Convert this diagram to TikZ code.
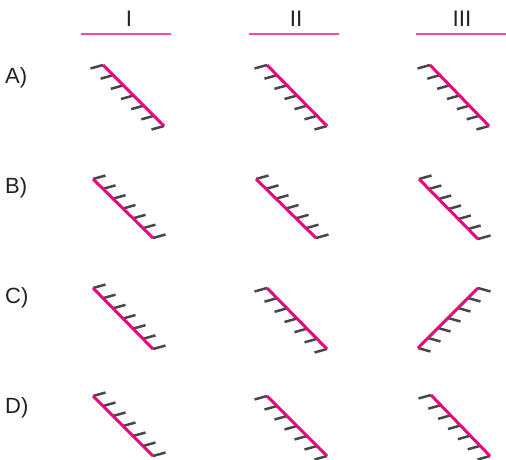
\documentclass[tikz,border=0pt]{standalone}
\usepackage{fontspec}
\setmainfont{Liberation Sans}
\usetikzlibrary{calc}
\definecolor{mag}{HTML}{E5097F}
\definecolor{maglight}{HTML}{EC4FA5}
\definecolor{hatchgray}{HTML}{474747}
\definecolor{txt}{HTML}{222222}
\tikzset{
  mirrorline/.style={draw=mag,line width=3pt},
  hatchline/.style={draw=hatchgray,line width=2.5pt},
  headline/.style={draw=maglight,line width=2pt},
  rowlabel/.style={anchor=west,text=txt,font=\fontsize{22}{26}\selectfont,inner sep=0pt},
  collabel/.style={text=txt,font=\fontsize{22.5}{27}\selectfont,inner sep=0pt}
}
% #1,#2 start; #3,#4 end; #5,#6 hatch vector
\newcommand\drawmirror[6]{%
  \foreach \k in {0,...,6}{%
    \draw[hatchline] ($(#1,#2)!\k/6!(#3,#4)$) -- ++(#5,#6);
  }
  \draw[mirrorline] (#1,#2) -- (#3,#4);
}
\begin{document}
\begin{tikzpicture}[x=1pt,y=-1pt]
\useasboundingbox (0,0) rectangle (506,459);
% column headers
\node[collabel] (hI) at (129,19) {I};
\node[collabel] (hII) at (296,19) {II};
\node[collabel] (hIII) at (462,19) {III};
\draw[headline] (81,34) -- (171,34);
\draw[headline] (249,34) -- (339,34);
\draw[headline] (416,34) -- (506,34);
% row labels
\node[rowlabel] (lA) at (5,78) {A)};
\node[rowlabel] (lB) at (5,188) {B)};
\node[rowlabel] (lC) at (5,298) {C)};
\node[rowlabel] (lD) at (5,408) {D)};
% row A
\drawmirror{103}{65}{164}{126}{-12.5}{3.5}
\drawmirror{267}{65}{327}{126}{-12.5}{3.5}
\drawmirror{430}{65}{489}{126}{-12.5}{3.5}
% row B
\drawmirror{93}{179}{153}{238}{12.5}{-3.5}
\drawmirror{256}{179}{316}{238}{12.5}{-3.5}
\drawmirror{419}{179}{478}{239}{12.5}{-3.5}
% row C
\drawmirror{93}{288}{153}{349}{12.5}{-3.5}
\drawmirror{267}{288}{327}{349}{-12.5}{3.5}
\drawmirror{478}{288}{418}{348}{12.5}{3.5}
% row D
\drawmirror{93}{396}{153}{456}{12.5}{-3.5}
\drawmirror{267}{396}{327}{456}{-12.5}{3.5}
\drawmirror{431}{395}{490}{456}{-12.5}{3.5}
\end{tikzpicture}
\end{document}
